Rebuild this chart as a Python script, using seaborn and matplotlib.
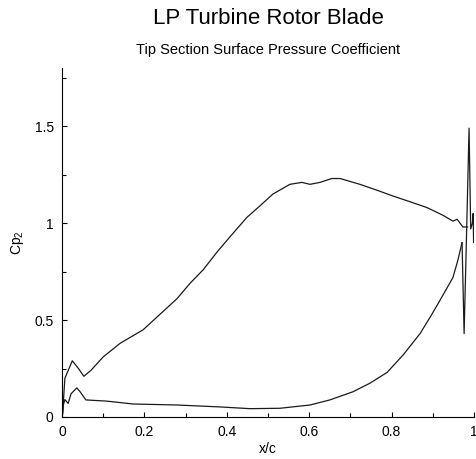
import matplotlib
matplotlib.use("Agg")
import matplotlib.pyplot as plt
from matplotlib.ticker import MultipleLocator, FixedLocator, FixedFormatter
import seaborn as sns
import pandas as pd

# ---- data ----
upper_x = [0.0, 0.002, 0.007, 0.015, 0.025, 0.04, 0.053, 0.07, 0.10, 0.141, 0.197,
           0.238, 0.279, 0.311, 0.343, 0.376, 0.408, 0.449, 0.481, 0.512, 0.553,
           0.582, 0.602, 0.626, 0.655, 0.675, 0.723, 0.764, 0.803, 0.845, 0.886,
           0.925, 0.949, 0.959, 0.973, 0.985]
upper_y = [0.0, 0.035, 0.20, 0.24, 0.29, 0.25, 0.21, 0.24, 0.31, 0.38, 0.45,
           0.53, 0.61, 0.69, 0.76, 0.85, 0.93, 1.03, 1.09, 1.15, 1.20,
           1.21, 1.20, 1.21, 1.23, 1.23, 1.20, 1.17, 1.14, 1.11, 1.08,
           1.04, 1.01, 1.02, 0.98, 0.98]

lower_x = [0.0, 0.002, 0.003, 0.007, 0.015, 0.022, 0.036, 0.044, 0.058, 0.108, 0.173,
           0.278, 0.383, 0.456, 0.529, 0.602, 0.650, 0.706, 0.748, 0.789, 0.828,
           0.869, 0.895, 0.917, 0.949, 0.961, 0.971]
lower_y = [0.0, 0.02, 0.06, 0.09, 0.07, 0.12, 0.15, 0.13, 0.088, 0.082, 0.067,
           0.062, 0.052, 0.043, 0.045, 0.062, 0.088, 0.13, 0.175, 0.23, 0.32,
           0.43, 0.52, 0.60, 0.72, 0.81, 0.90]

te_x = [0.971, 0.976, 0.982, 0.988, 0.992, 0.996, 0.998, 0.999]
te_y = [0.90, 0.43, 0.95, 1.49, 0.97, 1.00, 1.05, 0.90]

x_ticks = [0, 0.2, 0.4, 0.6, 0.8, 1.0]
x_tick_labels = ["0", "0.2", "0.4", "0.6", "0.8", "1"]
y_ticks = [0, 0.5, 1.0, 1.5]
y_tick_labels = ["0", "0.5", "1", "1.5"]

title = "LP Turbine Rotor Blade"
subtitle = "Tip Section Surface Pressure Coefficient"

# ---- styling ----
sns.set_style("white")
plt.rcParams["font.family"] = ["Liberation Sans", "DejaVu Sans"]
plt.rcParams["mathtext.fontset"] = "custom"
plt.rcParams["mathtext.rm"] = "Liberation Sans"
plt.rcParams["mathtext.it"] = "Liberation Sans"
plt.rcParams["text.color"] = "black"
plt.rcParams["axes.labelcolor"] = "black"

fig = plt.figure(figsize=(4.76, 4.59), dpi=100)
ax = fig.add_axes([62 / 476, 1 - 417 / 459, (474 - 62) / 476, (417 - 68) / 459])

line_kw = dict(color="#1a1a1a", linewidth=0.9, sort=False, estimator=None, ax=ax)
sns.lineplot(data=pd.DataFrame({"x": upper_x, "y": upper_y}), x="x", y="y", **line_kw)
sns.lineplot(data=pd.DataFrame({"x": lower_x, "y": lower_y}), x="x", y="y", **line_kw)
sns.lineplot(data=pd.DataFrame({"x": te_x, "y": te_y}), x="x", y="y", **line_kw)

ax.set_xlim(0, 1)
ax.set_ylim(0, 1.8)
ax.xaxis.set_major_locator(FixedLocator(x_ticks))
ax.xaxis.set_major_formatter(FixedFormatter(x_tick_labels))
ax.yaxis.set_major_locator(FixedLocator(y_ticks))
ax.yaxis.set_major_formatter(FixedFormatter(y_tick_labels))
ax.xaxis.set_minor_locator(MultipleLocator(0.1))
ax.yaxis.set_minor_locator(MultipleLocator(0.25))

for side in ["top", "right"]:
    ax.spines[side].set_visible(False)
for side in ["left", "bottom"]:
    ax.spines[side].set_color("black")
    ax.spines[side].set_linewidth(0.8)

ax.tick_params(which="both", direction="in", color="black", width=0.8,
               bottom=True, left=True, labelsize=10, pad=6, labelcolor="black")
ax.tick_params(which="major", length=3.5)
ax.tick_params(which="minor", length=3)

ax.set_xlabel("x/c", fontsize=10, labelpad=2, color="black")
ax.set_ylabel("Cp$_2$", fontsize=10, labelpad=6, color="black")

fig.text(268 / 476, 1 - 18 / 459, title, ha="center", va="center", fontsize=16, color="black")
fig.text(268 / 476, 1 - 50 / 459, subtitle, ha="center", va="center", fontsize=10.5, color="black")

fig.savefig("out.png", dpi=100)
